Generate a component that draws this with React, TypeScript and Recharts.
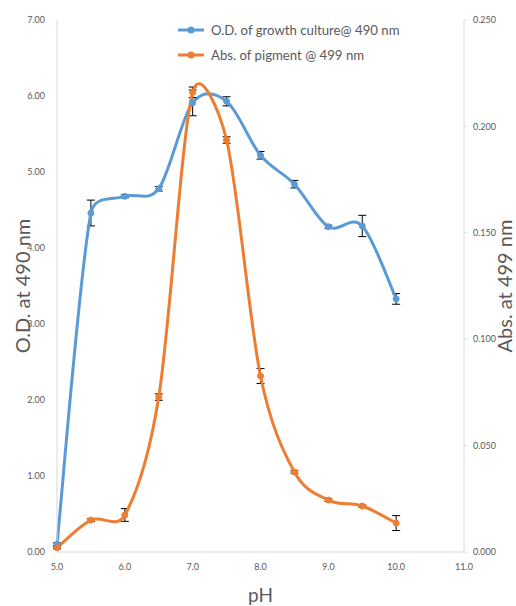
import React from 'react';
import {
  ErrorBar,
  Label,
  Legend,
  Line,
  LineChart,
  XAxis,
  YAxis,
} from 'recharts';

const phValues = [5.0, 5.5, 6.0, 6.5, 7.0, 7.5, 8.0, 8.5, 9.0, 9.5, 10.0];
const growthOD = [0.1, 4.46, 4.68, 4.78, 5.91, 5.93, 5.22, 4.84, 4.28, 4.29, 3.33];
const growthErr = [0.02, 0.17, 0.02, 0.03, 0.17, 0.06, 0.05, 0.05, 0.02, 0.14, 0.07];
const pigmentAbs = [0.002, 0.015, 0.0174, 0.0728, 0.216, 0.1936, 0.0827, 0.0376, 0.0244, 0.0216, 0.0136];
const pigmentErr = [0.0005, 0.0006, 0.003, 0.0015, 0.0025, 0.0015, 0.0035, 0.0006, 0.0006, 0.0005, 0.0035];

const xTicks = [5, 6, 7, 8, 9, 10, 11];
const leftTicks = [0, 1, 2, 3, 4, 5, 6, 7];
const rightTicks = [0, 0.05, 0.1, 0.15, 0.2, 0.25];

const BLUE = '#5B9BD5';
const ORANGE = '#ED7D31';
const TEXT = '#595959';
const FONT = 'Lato, "Open Sans", sans-serif';

const data = phValues.map((ph, i) => ({
  ph,
  od: growthOD[i],
  odErr: growthErr[i],
  abs: pigmentAbs[i],
  absErr: pigmentErr[i],
}));

// smoothed line like the spreadsheet one: catmull-rom tangents,
// clamped to half the segment length so short segments don't overshoot
function smoothCurve(context: any) {
  let pts: number[][] = [];
  const clamp = (dx: number, dy: number, max: number) => {
    const len = Math.hypot(dx, dy);
    if (len > max && len > 0) return [(dx * max) / len, (dy * max) / len];
    return [dx, dy];
  };
  return {
    areaStart() {},
    areaEnd() {},
    lineStart() {
      pts = [];
    },
    point(x: number, y: number) {
      pts.push([+x, +y]);
    },
    lineEnd() {
      if (!pts.length) return;
      const k = 1 / 6;
      context.moveTo(pts[0][0], pts[0][1]);
      for (let i = 0; i < pts.length - 1; i++) {
        const p0 = pts[Math.max(i - 1, 0)];
        const p1 = pts[i];
        const p2 = pts[i + 1];
        const p3 = pts[Math.min(i + 2, pts.length - 1)];
        const half = Math.hypot(p2[0] - p1[0], p2[1] - p1[1]) / 2;
        const t1 = clamp((p2[0] - p0[0]) * k, (p2[1] - p0[1]) * k, half);
        const t2 = clamp((p3[0] - p1[0]) * k, (p3[1] - p1[1]) * k, half);
        context.bezierCurveTo(
          p1[0] + t1[0],
          p1[1] + t1[1],
          p2[0] - t2[0],
          p2[1] - t2[1],
          p2[0],
          p2[1],
        );
      }
    },
  };
}

const legendItems = [
  { label: 'O.D. of growth culture@ 490 nm', color: BLUE },
  { label: 'Abs. of pigment @ 499 nm', color: ORANGE },
];

function ChartLegend() {
  return (
    <div style={{ fontFamily: FONT, fontSize: 13.2, color: TEXT }}>
      {legendItems.map(item => (
        <div
          key={item.label}
          style={{ display: 'flex', alignItems: 'center', height: 25 }}
        >
          <svg width={30} height={10} style={{ marginRight: 5 }}>
            <line x1={2} y1={5} x2={28} y2={5} stroke={item.color} strokeWidth={3} />
            <circle cx={15} cy={5} r={3.5} fill={item.color} />
          </svg>
          <span>{item.label}</span>
        </div>
      ))}
    </div>
  );
}

const tickStyle = { fontSize: 9, fill: TEXT, fontFamily: FONT };

export default function App() {
  return (
    <div style={{ position: 'absolute', left: 0, top: 0, background: '#fff' }}>
      <LineChart
        width={516}
        height={606}
        data={data}
        margin={{ top: 20, right: 0, left: 0, bottom: 0 }}
      >
        <XAxis
          dataKey="ph"
          type="number"
          domain={[5, 11]}
          ticks={xTicks}
          tickFormatter={v => Number(v).toFixed(1)}
          tick={tickStyle}
          tickLine={false}
          tickSize={0}
          tickMargin={12}
          axisLine={{ stroke: '#d9d9d9' }}
          height={54}
        >
          <Label
            value="pH"
            position="center"
            dy={16}
            style={{ fontSize: 19, fill: TEXT, fontFamily: FONT }}
          />
        </XAxis>
        <YAxis
          yAxisId="left"
          domain={[0, 7]}
          ticks={leftTicks}
          tickFormatter={v => Number(v).toFixed(2)}
          tick={tickStyle}
          tickLine={false}
          tickSize={0}
          tickMargin={12}
          axisLine={{ stroke: '#d9d9d9' }}
          width={57}
        >
          <Label
            value="O.D. at 490 nm"
            angle={-90}
            position="center"
            dx={-6}
            style={{ fontSize: 20, fill: TEXT, fontFamily: FONT, textAnchor: 'middle' }}
          />
        </YAxis>
        <YAxis
          yAxisId="right"
          orientation="right"
          domain={[0, 0.25]}
          ticks={rightTicks}
          tickFormatter={v => Number(v).toFixed(3)}
          tick={tickStyle}
          tickLine={{ stroke: '#d9d9d9' }}
          tickSize={3}
          tickMargin={6}
          axisLine={{ stroke: '#d9d9d9' }}
          width={52}
        >
          <Label
            value="Abs. at 499 nm"
            angle={-90}
            position="center"
            dx={15}
            style={{ fontSize: 20, fill: TEXT, fontFamily: FONT, textAnchor: 'middle' }}
          />
        </YAxis>
        <Legend
          verticalAlign="middle"
          align="center"
          layout="horizontal"
          content={() => <ChartLegend />}
          wrapperStyle={{ top: 17, left: 176, width: 280 }}
        />
        <Line
          yAxisId="left"
          dataKey="od"
          type={smoothCurve as any}
          stroke={BLUE}
          strokeWidth={3}
          dot={{ r: 3, fill: BLUE, stroke: BLUE, strokeWidth: 1 }}
          activeDot={false}
          isAnimationActive={false}
        >
          <ErrorBar dataKey="odErr" width={4} stroke="#000" strokeWidth={1} />
        </Line>
        <Line
          yAxisId="right"
          dataKey="abs"
          type={smoothCurve as any}
          stroke={ORANGE}
          strokeWidth={3}
          dot={{ r: 3, fill: ORANGE, stroke: ORANGE, strokeWidth: 1 }}
          activeDot={false}
          isAnimationActive={false}
        >
          <ErrorBar dataKey="absErr" width={4} stroke="#000" strokeWidth={1} />
        </Line>
      </LineChart>
    </div>
  );
}
